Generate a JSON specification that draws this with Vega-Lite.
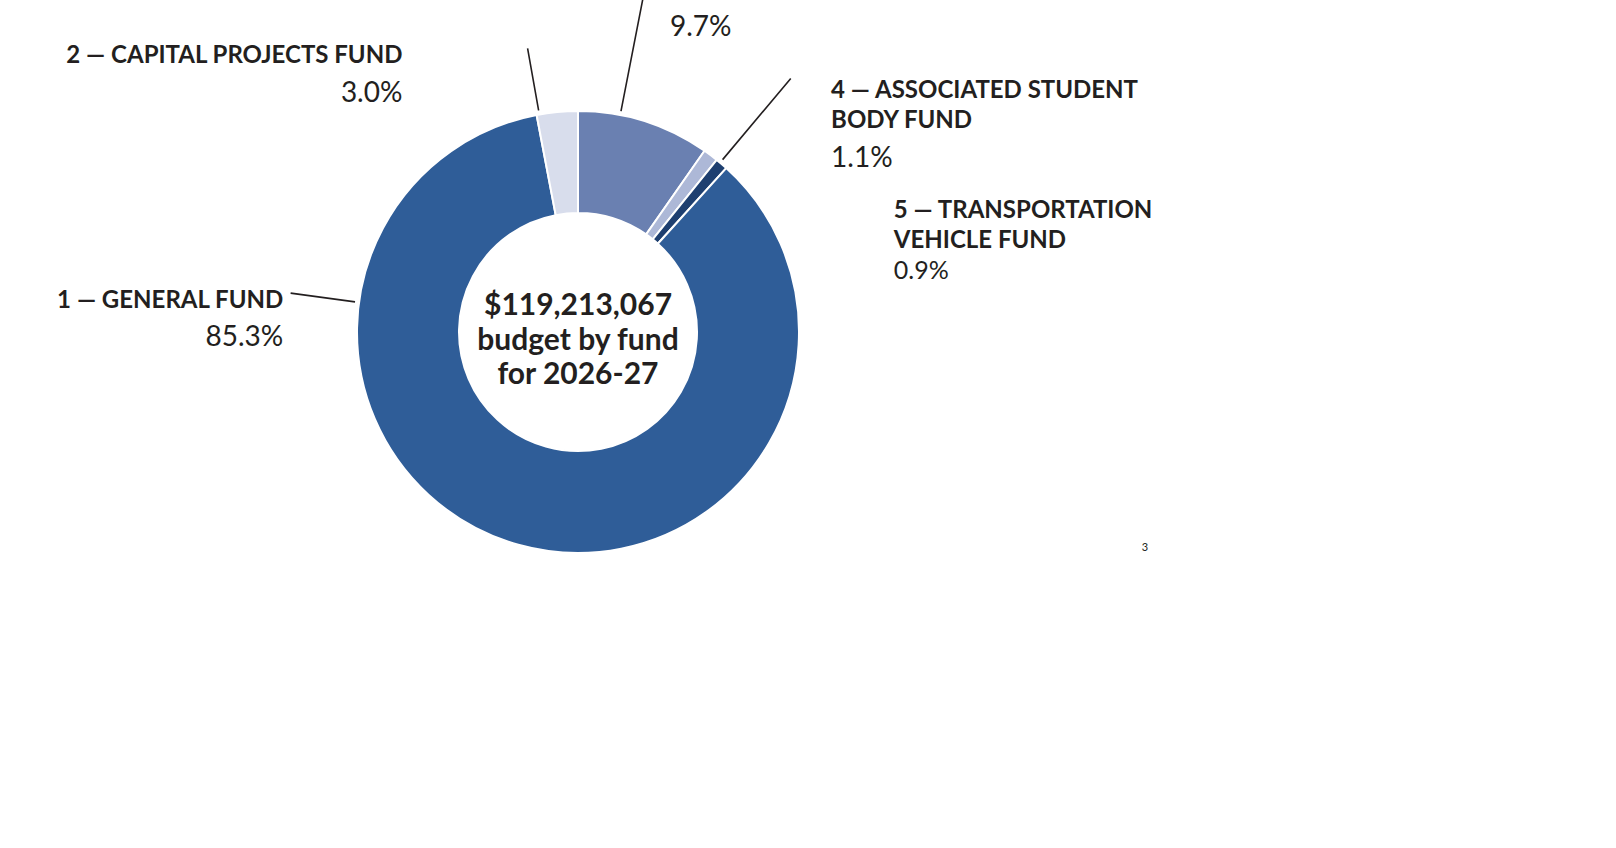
{
  "$schema": "https://vega.github.io/schema/vega-lite/v6.json",
  "width": 1156,
  "height": 664,
  "autosize": "none",
  "padding": {"left": 0, "top": 0, "right": 460, "bottom": 184},
  "background": "white",
  "config": {
    "view": {"stroke": null},
    "text": {"font": "Lato", "color": "#231f20"}
  },
  "data": {
    "values": [
      {"fund": 3, "name": "3", "share": 0.097, "order": 1},
      {"fund": 4, "name": "4 — ASSOCIATED STUDENT\nBODY FUND", "share": 0.011, "order": 2},
      {"fund": 5, "name": "5 — TRANSPORTATION\nVEHICLE FUND", "share": 0.009, "order": 3},
      {"fund": 1, "name": "1 — GENERAL FUND", "share": 0.853, "order": 4},
      {"fund": 2, "name": "2 — CAPITAL PROJECTS FUND", "share": 0.03, "order": 5}
    ]
  },
  "layer": [
    {
      "mark": {"type": "arc", "outerRadius": 221, "innerRadius": 119, "stroke": "white", "strokeWidth": 2},
      "encoding": {
        "theta": {"field": "share", "type": "quantitative", "stack": true},
        "order": {"field": "order", "type": "quantitative"},
        "color": {
          "field": "fund",
          "type": "nominal",
          "scale": {
            "domain": [1, 2, 3, 4, 5],
            "range": ["#2f5d98", "#d8ddec", "#6a80b1", "#adb8d7", "#1e3f70"]
          },
          "legend": null
        }
      }
    },
    {
      "transform": [{"filter": "datum.fund == 3"}],
      "mark": {"type": "arc", "filled": false, "color": "#231f20", "strokeWidth": 1.6, "radius": 225, "radius2": 345},
      "encoding": {
        "theta": {"datum": 0.0306, "type": "quantitative"},
        "theta2": {"datum": 0.0306}
      }
    },
    {
      "transform": [{"filter": "datum.fund == 2"}],
      "mark": {"type": "arc", "filled": false, "color": "#231f20", "strokeWidth": 1.6, "radius": 225, "radius2": 288},
      "encoding": {
        "theta": {"datum": 0.972, "type": "quantitative"},
        "theta2": {"datum": 0.972}
      }
    },
    {
      "transform": [{"filter": "datum.fund == 4"}],
      "mark": {"type": "arc", "filled": false, "color": "#231f20", "strokeWidth": 1.6, "radius": 225, "radius2": 331},
      "encoding": {
        "theta": {"datum": 0.1111, "type": "quantitative"},
        "theta2": {"datum": 0.1111}
      }
    },
    {
      "transform": [{"filter": "datum.fund == 1"}],
      "mark": {"type": "arc", "filled": false, "color": "#231f20", "strokeWidth": 1.6, "radius": 225, "radius2": 290},
      "encoding": {
        "theta": {"datum": 0.7714, "type": "quantitative"},
        "theta2": {"datum": 0.7714}
      }
    },
    {
      "mark": {"type": "text", "radius": 240, "align": "right", "baseline": "middle", "dx": -153, "dy": -37, "fontSize": 24, "fontWeight": "bold"},
      "encoding": {
        "theta": {"field": "share", "type": "quantitative", "stack": true},
        "order": {"field": "order", "type": "quantitative"},
        "text": {"condition": {"test": "datum.fund == 2", "field": "name"}, "value": ""}
      }
    },
    {
      "mark": {"type": "text", "radius": 240, "align": "right", "baseline": "middle", "dx": -153, "dy": 1, "fontSize": 28},
      "encoding": {
        "theta": {"field": "share", "type": "quantitative", "stack": true},
        "order": {"field": "order", "type": "quantitative"},
        "text": {"condition": {"test": "datum.fund == 2", "field": "share", "format": ".1%"}, "value": ""}
      }
    },
    {
      "mark": {"type": "text", "radius": 240, "align": "left", "baseline": "middle", "dx": 20, "dy": -75, "fontSize": 28},
      "encoding": {
        "theta": {"field": "share", "type": "quantitative", "stack": true},
        "order": {"field": "order", "type": "quantitative"},
        "text": {"condition": {"test": "datum.fund == 3", "field": "share", "format": ".1%"}, "value": ""}
      }
    },
    {
      "mark": {"type": "text", "radius": 240, "align": "left", "baseline": "middle", "dx": 109, "dy": -49, "fontSize": 24, "fontWeight": "bold", "lineBreak": "\n", "lineHeight": 30},
      "encoding": {
        "theta": {"field": "share", "type": "quantitative", "stack": true},
        "order": {"field": "order", "type": "quantitative"},
        "text": {"condition": {"test": "datum.fund == 4", "field": "name"}, "value": ""}
      }
    },
    {
      "mark": {"type": "text", "radius": 240, "align": "left", "baseline": "middle", "dx": 109, "dy": 19, "fontSize": 28},
      "encoding": {
        "theta": {"field": "share", "type": "quantitative", "stack": true},
        "order": {"field": "order", "type": "quantitative"},
        "text": {"condition": {"test": "datum.fund == 4", "field": "share", "format": ".1%"}, "value": ""}
      }
    },
    {
      "mark": {"type": "text", "radius": 240, "align": "left", "baseline": "middle", "dx": 160, "dy": 61, "fontSize": 24, "fontWeight": "bold", "lineBreak": "\n", "lineHeight": 30},
      "encoding": {
        "theta": {"field": "share", "type": "quantitative", "stack": true},
        "order": {"field": "order", "type": "quantitative"},
        "text": {"condition": {"test": "datum.fund == 5", "field": "name"}, "value": ""}
      }
    },
    {
      "mark": {"type": "text", "radius": 240, "align": "left", "baseline": "middle", "dx": 160, "dy": 121, "fontSize": 25},
      "encoding": {
        "theta": {"field": "share", "type": "quantitative", "stack": true},
        "order": {"field": "order", "type": "quantitative"},
        "text": {"condition": {"test": "datum.fund == 5", "field": "share", "format": ".1%"}, "value": ""}
      }
    },
    {
      "mark": {"type": "text", "radius": 240, "align": "right", "baseline": "middle", "dx": -230, "dy": -262, "fontSize": 24, "fontWeight": "bold"},
      "encoding": {
        "theta": {"field": "share", "type": "quantitative", "stack": true},
        "order": {"field": "order", "type": "quantitative"},
        "text": {"condition": {"test": "datum.fund == 1", "field": "name"}, "value": ""}
      }
    },
    {
      "mark": {"type": "text", "radius": 240, "align": "right", "baseline": "middle", "dx": -230, "dy": -225, "fontSize": 28},
      "encoding": {
        "theta": {"field": "share", "type": "quantitative", "stack": true},
        "order": {"field": "order", "type": "quantitative"},
        "text": {"condition": {"test": "datum.fund == 1", "field": "share", "format": ".1%"}, "value": ""}
      }
    },
    {
      "data": {"values": [{"total": 119213067}]},
      "mark": {"type": "text", "align": "center", "baseline": "middle", "dy": -26, "fontSize": 30, "fontWeight": "bold", "lineHeight": 34.5},
      "encoding": {
        "text": {"value": ["$119,213,067", "budget by fund", "for 2026-27"]}
      }
    },
    {
      "data": {"values": [{"page": "3"}]},
      "mark": {"type": "text", "align": "center", "baseline": "middle", "dx": 567, "dy": 216, "fontSize": 11},
      "encoding": {
        "text": {"field": "page"}
      }
    }
  ]
}
